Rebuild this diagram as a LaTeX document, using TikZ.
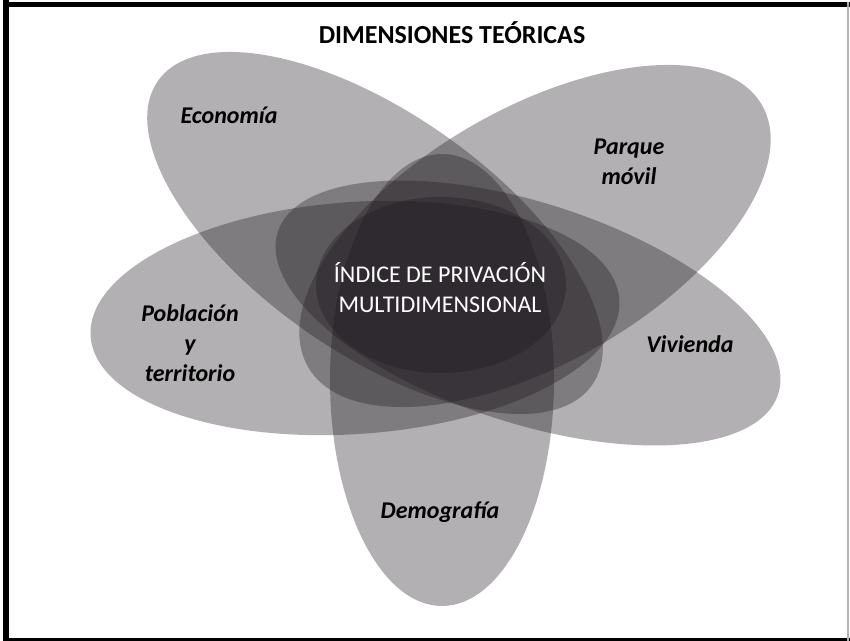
\documentclass[tikz,border=0pt]{standalone}
\usepackage{fontspec}
\setmainfont{Carlito}
\usetikzlibrary{positioning}

\begin{document}
\begin{tikzpicture}[x=0.75pt, y=0.75pt,
    petal/.style={fill={rgb,255:red,30;green,25;blue,30}, fill opacity=0.34},
    dimlabel/.style={font=\fontsize{18}{22.5}\selectfont\bfseries\itshape, align=center, text=black},
    title/.style={font=\fontsize{19.5}{23}\selectfont\bfseries, text=black},
    core/.style={font=\fontsize{18}{22.5}\selectfont, align=center, text=white}]

    % Frame
    \useasboundingbox (0,0) rectangle (850,641);
    \fill[white] (0,0) rectangle (850,641);
    \fill[black] (3,0) rectangle (9,641);
    \fill[black] (3,634) rectangle (850,639);
    \fill[black] (3,0) rectangle (850,3);
    \fill[gray!60] (847,0) rectangle (849,639);

    % Petals
    \fill[petal, rotate around={-35:(375,408)}] (375,408) ellipse [x radius=265, y radius=120];
    \fill[petal, rotate around={30:(535,405)}] (535,405) ellipse [x radius=262, y radius=127];
    \fill[petal, rotate around={4:(355,323)}] (355,323) ellipse [x radius=265, y radius=116];
    \fill[petal, rotate around={-18:(528,328)}] (528,328) ellipse [x radius=263, y radius=110];
    \fill[petal] (442,261) ellipse [x radius=112, y radius=226];
    \fill[petal] (441,356) ellipse [x radius=125, y radius=88];

    % Nodes
    \node[title] (titulo) at (452,608) {DIMENSIONES TEÓRICAS};
    \node[dimlabel] (economia) at (229,526) {Economía};
    \node[dimlabel] (parque) at (629,479) {Parque\\móvil};
    \node[dimlabel] (poblacion) at (190,298) {Población\\y\\territorio};
    \node[dimlabel] (vivienda) at (690,297) {Vivienda};
    \node[dimlabel] (demografia) at (440,129) {Demografía};
    \node[core] (indice) at (440,353) {ÍNDICE DE PRIVACIÓN\\MULTIDIMENSIONAL};

\end{tikzpicture}
\end{document}
